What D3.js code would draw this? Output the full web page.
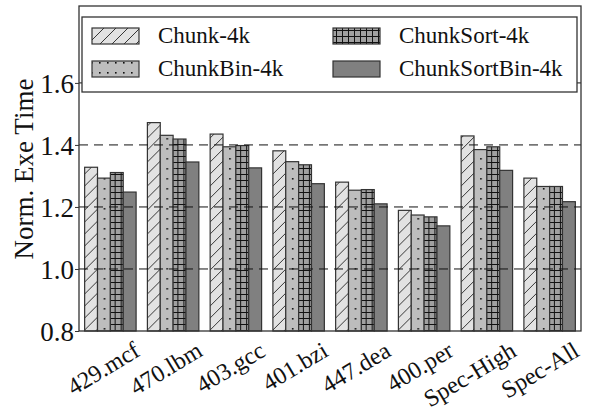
<!DOCTYPE html>
<html>
<head>
<meta charset="utf-8">
<title>Norm. Exe Time</title>
<script src="https://cdn.jsdelivr.net/npm/d3@7/dist/d3.min.js"></script>
</head>
<body style="margin:0;background:#fff;">
<svg id="chart" width="593" height="419" font-family="Liberation Serif" style="font-family:'Liberation Serif',serif"></svg>
<script>
// data
var benchmarks = ["429.mcf","470.lbm","403.gcc","401.bzi","447.dea","400.per","Spec-High","Spec-All"];
var seriesNames = ["Chunk-4k","ChunkBin-4k","ChunkSort-4k","ChunkSortBin-4k"];
var chunk        = [1.328,1.472,1.435,1.381,1.280,1.189,1.429,1.293];
var chunkBin     = [1.293,1.431,1.394,1.346,1.254,1.174,1.385,1.266];
var chunkSort    = [1.311,1.419,1.398,1.336,1.256,1.168,1.394,1.266];
var chunkSortBin = [1.248,1.345,1.326,1.275,1.210,1.139,1.318,1.217];
var yTicks = [0.8,1.0,1.2,1.4,1.6];

var series = [chunk,chunkBin,chunkSort,chunkSortBin];
var FONT = "Liberation Serif";

var svg = d3.select("#chart");
var m = {left:79,right:12,top:6,bottom:88};
var W = 593, H = 419;
var pw = W-m.left-m.right, ph = H-m.top-m.bottom;

function serifText(sel, size){
  sel.attr("font-family",FONT).attr("font-size",size)
     .style("font-family",FONT).style("font-size",size+"px").attr("fill","#111");
}

// patterns
var defs = svg.append("defs");
var p1 = defs.append("pattern").attr("id","pat0").attr("patternUnits","userSpaceOnUse")
  .attr("width",12).attr("height",12);
p1.append("rect").attr("width",12).attr("height",12).attr("fill","#e2e2e2");
p1.append("path").attr("d","M-3,15 L15,-3 M-3,3 L3,-3 M9,15 L15,9").attr("stroke","#222").attr("stroke-width",0.9);

var p2 = defs.append("pattern").attr("id","pat1").attr("patternUnits","userSpaceOnUse")
  .attr("width",8).attr("height",10);
p2.append("rect").attr("width",8).attr("height",10).attr("fill","#bdbdbd");
p2.append("rect").attr("x",3).attr("y",2).attr("width",1.6).attr("height",1.6).attr("fill","#111");

var p3 = defs.append("pattern").attr("id","pat2").attr("patternUnits","userSpaceOnUse")
  .attr("width",6).attr("height",6);
p3.append("rect").attr("width",6).attr("height",6).attr("fill","#a0a0a0");
p3.append("path").attr("d","M0,0.5 H6 M0.5,0 V6").attr("stroke","#111").attr("stroke-width",1);

var fills = ["url(#pat0)","url(#pat1)","url(#pat2)","#808080"];

var g = svg.append("g").attr("transform","translate("+m.left+","+m.top+")");

var x0 = d3.scaleBand().domain(benchmarks).range([0,pw]).paddingInner(0.18).paddingOuter(0.09);
var x1 = d3.scaleBand().domain(d3.range(4)).range([0,x0.bandwidth()]);
var y = d3.scaleLinear().domain([0.8,1.848]).range([ph,0]);

// bars
benchmarks.forEach(function(b,i){
  var gb = g.append("g").attr("transform","translate("+x0(b)+",0)");
  series.forEach(function(s,j){
    gb.append("rect")
      .attr("x",x1(j)).attr("y",y(s[i]))
      .attr("width",x1.bandwidth()).attr("height",ph-y(s[i]))
      .attr("fill",fills[j]).attr("stroke","#333").attr("stroke-width",1.2);
  });
});

// grid
g.append("g").selectAll("line").data(yTicks.slice(1)).enter().append("line")
  .attr("x1",0).attr("x2",pw).attr("y1",function(d){return y(d);}).attr("y2",function(d){return y(d);})
  .attr("stroke","#111").attr("stroke-width",1).attr("stroke-dasharray","9,6");

// frame
g.append("rect").attr("width",pw).attr("height",ph).attr("fill","none").attr("stroke","#333").attr("stroke-width",1.3);

// y axis
var ya = g.append("g").call(d3.axisLeft(y).tickValues(yTicks).tickFormat(d3.format(".1f")).tickSize(4).tickPadding(1));
ya.attr("font-family",FONT).attr("font-size",27);
ya.select(".domain").remove();
ya.selectAll("line").attr("stroke","#333");
ya.selectAll("text").call(serifText,27).attr("dy","0.36em");

// x labels
var xa = g.append("g").attr("transform","translate(0,"+ph+")")
  .call(d3.axisBottom(x0).tickSize(0).tickPadding(0));
xa.attr("font-family",FONT).attr("font-size",24);
xa.select(".domain").remove();
xa.selectAll("text").call(serifText,24)
  .attr("text-anchor","end").attr("dy",0).attr("y",0)
  .attr("transform","translate(31,24) rotate(-31)");

// y label
svg.append("text").attr("transform","translate(33,"+(m.top+163)+") rotate(-90)")
  .attr("text-anchor","middle").call(serifText,27)
  .text("Norm. Exe Time");

// legend
var lg = svg.append("g");
lg.append("rect").attr("x",82).attr("y",17).attr("width",495).attr("height",75)
  .attr("fill","#fff").attr("stroke","#333").attr("stroke-width",1.3);
var lx = [92,92,333,333], ly = [28,61,28,61];
seriesNames.forEach(function(n,j){
  lg.append("rect").attr("x",lx[j]).attr("y",ly[j]).attr("width",47).attr("height",16)
    .attr("fill",fills[j]).attr("stroke","#333").attr("stroke-width",1.2);
  lg.append("text").attr("x",lx[j]+66).attr("y",ly[j]+15).call(serifText,23).text(n);
});
</script>
</body>
</html>
